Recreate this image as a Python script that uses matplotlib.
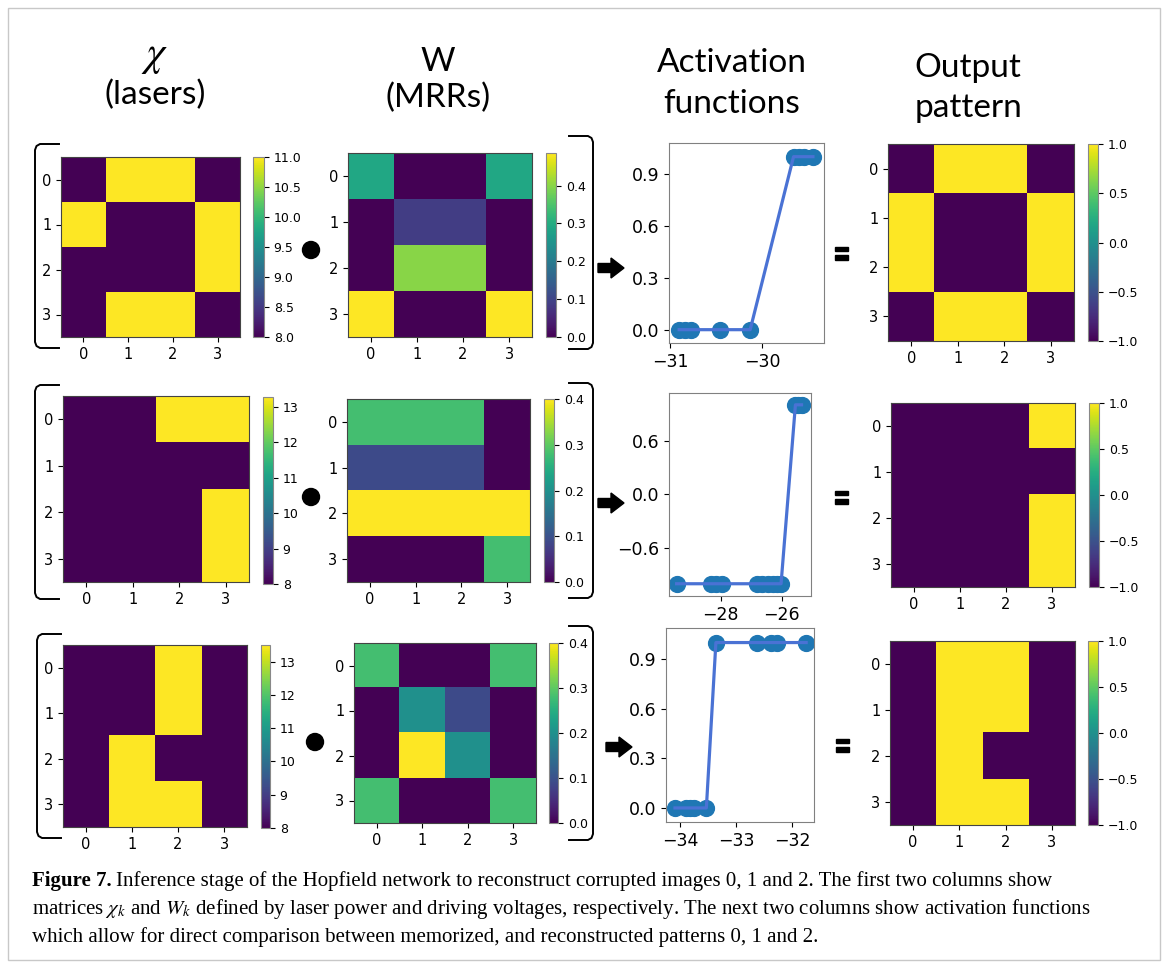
import numpy as np
import matplotlib
matplotlib.use('Agg')
import matplotlib.pyplot as plt
from matplotlib.patches import Polygon, Ellipse, Rectangle
from matplotlib.lines import Line2D

plt.rcParams['mathtext.fontset'] = 'stix'

# matrices chi (laser power)
chi_1 = [[8, 11, 11, 8], [11, 8, 8, 11], [8, 8, 8, 11], [8, 11, 11, 8]]
chi_2 = [[8, 8, 13.27, 13.27], [8, 8, 8, 8], [8, 8, 8, 13.27], [8, 8, 8, 13.27]]
chi_3 = [[8, 8, 13.5, 8], [8, 8, 13.5, 8], [8, 13.5, 8, 8], [8, 13.5, 13.5, 8]]

# matrices W (MRRs)
w_1 = [[0.29, 0, 0, 0.29], [0, 0.088, 0.088, 0], [0, 0.40, 0.40, 0], [0.486, 0, 0, 0.486]]
w_2 = [[0.28, 0.28, 0.28, 0], [0.09, 0.09, 0.09, 0], [0.4, 0.4, 0.4, 0.4], [0, 0, 0, 0.28]]
w_3 = [[0.28, 0, 0, 0.28], [0, 0.2, 0.09, 0], [0, 0.4, 0.2, 0], [0.28, 0, 0, 0.28]]

# funciones de activacion
act_x1 = [-30.90, -30.84, -30.77, -30.46, -30.13, -29.66, -29.60, -29.55, -29.45]
act_y1 = [0, 0, 0, 0, 0, 1, 1, 1, 1]
act_x2 = [-29.44, -28.30, -28.15, -27.95, -26.80, -26.65, -26.45, -26.30, -26.15, -26.02,
          -25.55, -25.45, -25.35]
act_y2 = [-1, -1, -1, -1, -1, -1, -1, -1, -1, -1, 1, 1, 1]
act_x3 = [-34.09, -33.89, -33.82, -33.75, -33.53, -33.36, -32.62, -32.38, -32.27, -31.75]
act_y3 = [0, 0, 0, 0, 0, 1, 1, 1, 1, 1]

# patrones de salida
out_1 = [[-1, 1, 1, -1], [1, -1, -1, 1], [1, -1, -1, 1], [-1, 1, 1, -1]]
out_2 = [[-1, -1, -1, 1], [-1, -1, -1, -1], [-1, -1, -1, 1], [-1, -1, -1, 1]]
out_3 = [[-1, 1, 1, -1], [-1, 1, 1, -1], [-1, 1, -1, -1], [-1, 1, 1, -1]]

chi_ticks = [np.arange(8, 11.01, 0.5), [8, 9, 10, 11, 12, 13], [8, 9, 10, 11, 12, 13]]
w_ticks = [0.0, 0.1, 0.2, 0.3, 0.4]
out_ticks = [-1.0, -0.5, 0.0, 0.5, 1.0]
act_xticks = [[-31, -30], [-28, -26], [-34, -33, -32]]
act_yticks = [[0.0, 0.3, 0.6, 0.9], [-0.6, 0.0, 0.6], [0.0, 0.3, 0.6, 0.9]]
act_ylims = [(-0.077, 1.079), (-1.137, 1.132), (-0.085, 1.088)]
act_xlims = [(-31.01, -29.33), (-29.69, -25.04), (-34.25, -31.61)]

W, H = 1167, 967
fig = plt.figure(figsize=(W / 100, H / 100), dpi=100)


def caja(x0, y0, x1, y1):
    return [x0 / W, 1 - y1 / H, (x1 - x0) / W, (y1 - y0) / H]


# capa para corchetes, puntos, flechas
ov = fig.add_axes([0, 0, 1, 1])
ov.set_xlim(0, W)
ov.set_ylim(H, 0)
ov.axis('off')

ov.add_patch(Rectangle((8, 8), 1152, 952, fill=False, ec='#c8c8c8', lw=1))


def corchete(x, y0, y1, lado):
    d = 1 if lado == 'izq' else -1
    xs = [x + d * 24, x + d * 5, x + d * 1.5, x, x, x + d * 1.5, x + d * 5, x + d * 24]
    ys = [y0, y0, y0 + 2, y0 + 6, y1 - 6, y1 - 2, y1, y1]
    ov.add_line(Line2D(xs, ys, color='black', lw=1.4))


corchete(35, 144, 348, 'izq')
corchete(35, 385, 599, 'izq')
corchete(37, 634, 838, 'izq')
corchete(593, 136, 349, 'der')
corchete(593, 383, 598, 'der')
corchete(593, 626, 840, 'der')

for cx, cy in [(311, 250), (311, 497), (315, 742)]:
    ov.add_patch(Ellipse((cx, cy), 17, 17, color='black'))

for t0, cy in [(598, 268), (598, 503), (606, 747)]:
    pts = [(t0, cy - 4.5), (t0 + 13, cy - 4.5), (t0 + 13, cy - 10), (t0 + 26, cy),
           (t0 + 13, cy + 10), (t0 + 13, cy + 4.5), (t0, cy + 4.5)]
    ov.add_patch(Polygon(pts, color='black'))

for cx, cy in [(841, 253), (841, 497), (842, 745)]:
    ov.add_patch(Rectangle((cx - 6.5, cy - 6.5), 13, 4.5, color='black'))
    ov.add_patch(Rectangle((cx - 6.5, cy + 2), 13, 4.5, color='black'))

# titulos de columnas
hdr = dict(ha='center', va='center', fontsize=24, family='Lato')
fig.text(155 / W, 1 - 55 / H, r'$\chi$', ha='center', va='center', fontsize=30)
fig.text(155 / W, 1 - 95 / H, '(lasers)', **hdr)
fig.text(438 / W, 1 - 62 / H, 'W', **hdr)
fig.text(438 / W, 1 - 98 / H, '(MRRs)', **hdr)
fig.text(732 / W, 1 - 63 / H, 'Activation', **hdr)
fig.text(732 / W, 1 - 104 / H, 'functions', **hdr)
fig.text(968 / W, 1 - 68 / H, 'Output', **hdr)
fig.text(968 / W, 1 - 108 / H, 'pattern', **hdr)

chi_box = [(61, 157, 240, 337), (63, 396, 249, 582), (63, 645, 247, 827)]
chi_cb = [(253, 157, 264, 337), (263, 397, 273, 584), (261, 645, 270, 828)]
w_box = [(348, 153, 532, 337), (347, 399, 530, 582), (354, 643, 536, 823)]
w_cb = [(546, 153, 556, 337), (544, 399, 554, 582), (549, 643, 558, 823)]
act_box = [(669, 143, 824, 343), (669, 393, 811, 596), (666, 628, 814, 822)]
out_box = [(888, 144, 1074, 341), (891, 403, 1075, 587), (890, 641, 1075, 825)]
out_cb = [(1088, 144, 1098, 341), (1089, 403, 1099, 587), (1088, 641, 1098, 825)]


def mapa(datos, box, cbox, cticks, vmin=None, vmax=None):
    ax = fig.add_axes(caja(*box))
    im = ax.imshow(np.array(datos), cmap='viridis', aspect='auto', vmin=vmin, vmax=vmax)
    ax.set_xticks(range(4))
    ax.set_yticks(range(4))
    ax.tick_params(labelsize=10.5)
    for s in ax.spines.values():
        s.set_color('#444444')
    cax = fig.add_axes(caja(*cbox))
    cb = fig.colorbar(im, cax=cax)
    cb.set_ticks(cticks)
    cb.ax.tick_params(labelsize=9)
    cb.outline.set_edgecolor('#888888')
    return ax


chis = [chi_1, chi_2, chi_3]
ws = [w_1, w_2, w_3]
outs = [out_1, out_2, out_3]
axs_x = [act_x1, act_x2, act_x3]
axs_y = [act_y1, act_y2, act_y3]

for i in range(3):
    mapa(chis[i], chi_box[i], chi_cb[i], chi_ticks[i])
    mapa(ws[i], w_box[i], w_cb[i], w_ticks)
    mapa(outs[i], out_box[i], out_cb[i], out_ticks, vmin=-1, vmax=1)

    ax = fig.add_axes(caja(*act_box[i]))
    ax.scatter(axs_x[i], axs_y[i], s=130, color='#1f77b4', zorder=2)
    ax.plot(axs_x[i], axs_y[i], color='#4a72d4', lw=2.3, zorder=3)
    ax.set_xlim(*act_xlims[i])
    ax.set_ylim(*act_ylims[i])
    ax.set_xticks(act_xticks[i])
    ax.set_yticks(act_yticks[i])
    ax.tick_params(labelsize=12.5)
    for s in ax.spines.values():
        s.set_color('#808080')

# pie de figura
cap = dict(fontsize=15, family='Liberation Serif', va='baseline', ha='left')
t_b = fig.text(32 / W, 1 - 886 / H, 'Figure 7.', fontweight='bold', **cap)
fig.canvas.draw()
bb = t_b.get_window_extent()
fig.text((bb.x1 + 4) / W, 1 - 886 / H,
         'Inference stage of the Hopfield network to reconstruct corrupted images 0, 1 and 2. '
         'The first two columns show', **cap)
fig.text(32 / W, 1 - 914 / H,
         r'matrices $\chi_k$ and $W_k$ defined by laser power and driving voltages, respectively. '
         'The next two columns show activation functions', **cap)
fig.text(32 / W, 1 - 942 / H,
         'which allow for direct comparison between memorized, and reconstructed patterns 0, 1 and 2.',
         **cap)

fig.savefig('out.png', dpi=100)
